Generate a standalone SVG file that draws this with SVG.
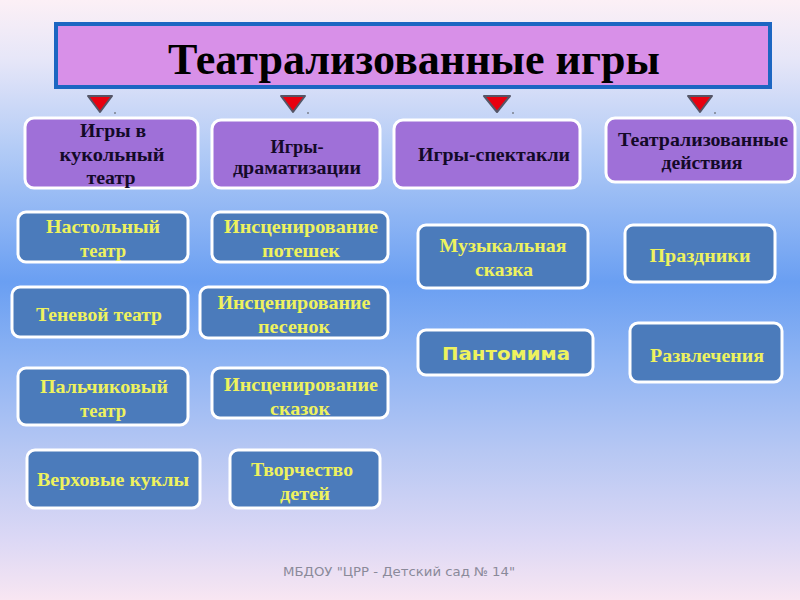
<svg xmlns="http://www.w3.org/2000/svg" width="800" height="600" viewBox="0 0 800 600">
<defs>
<linearGradient id="bg" x1="0" y1="0" x2="0" y2="1">
<stop offset="0" stop-color="#fcf0f6"/>
<stop offset="0.1" stop-color="#e6e6f8"/>
<stop offset="0.25" stop-color="#b2cbf6"/>
<stop offset="0.47" stop-color="#6a9ff2"/>
<stop offset="0.6" stop-color="#8db3f3"/>
<stop offset="0.75" stop-color="#b6c7f3"/>
<stop offset="0.9" stop-color="#dcd8f5"/>
<stop offset="1" stop-color="#f8e6f2"/>
</linearGradient>
</defs>
<style>
.title{fill:#d890e8;stroke:#1c66c2;stroke-width:4}
.cat{fill:#9f70d8;stroke:#ffffff;stroke-width:3}
.sub{fill:#4b7bbb;stroke:#ffffff;stroke-width:3}
.tt{font-family:"Liberation Serif",serif;font-weight:bold;font-size:45px;fill:#000;text-anchor:middle}
.ct{font-family:"Liberation Serif",serif;font-weight:bold;font-size:19px;fill:#140a28;text-anchor:middle}
.st{font-family:"Liberation Serif",serif;font-weight:bold;font-size:19px;fill:#eef25e;text-anchor:middle}
.ss{font-family:"DejaVu Sans",sans-serif;font-weight:bold;font-size:18px;fill:#eef25e;text-anchor:middle}
.ft{font-family:"DejaVu Sans",sans-serif;font-size:12px;fill:#8a8a9a;text-anchor:middle}
.tri{fill:#e8000f;stroke:#555566;stroke-width:2;stroke-linejoin:round}
</style>
<rect x="0" y="0" width="800" height="600" fill="url(#bg)"/>

<g id="title">
<rect class="title" x="56" y="24" width="714" height="63"/>
<text class="tt" x="414" y="74" textLength="492" lengthAdjust="spacingAndGlyphs">Театрализованные игры</text>
</g>

<g id="connectors">
<polygon class="tri" points="88,96 112,96 100,112"/>
<polygon class="tri" points="281,96 305,96 293,112"/>
<polygon class="tri" points="484,96 510,96 497,112"/>
<polygon class="tri" points="688,96 712,96 700,112"/>
<circle cx="115" cy="113" r="0.8" fill="#444"/>
<circle cx="308" cy="113" r="0.8" fill="#444"/>
<circle cx="513" cy="113" r="0.8" fill="#444"/>
<circle cx="715" cy="113" r="0.8" fill="#444"/>
</g>

<g id="cat1">
<rect class="cat" x="25" y="118" width="173" height="70" rx="9"/>
<text class="ct" x="113" y="137" textLength="66" lengthAdjust="spacingAndGlyphs">Игры в</text>
<text class="ct" x="112" y="161" textLength="105" lengthAdjust="spacingAndGlyphs">кукольный</text>
<text class="ct" x="111" y="184" textLength="49" lengthAdjust="spacingAndGlyphs">театр</text>
</g>
<g id="cat2">
<rect class="cat" x="212" y="120" width="168" height="68" rx="9"/>
<text class="ct" x="297" y="153" textLength="53" lengthAdjust="spacingAndGlyphs">Игры-</text>
<text class="ct" x="297" y="174" textLength="128" lengthAdjust="spacingAndGlyphs">драматизации</text>
</g>
<g id="cat3">
<rect class="cat" x="394" y="120" width="186" height="68" rx="9"/>
<text class="ct" x="494" y="161" textLength="152" lengthAdjust="spacingAndGlyphs">Игры-спектакли</text>
</g>
<g id="cat4">
<rect class="cat" x="606" y="118" width="189" height="64" rx="9"/>
<text class="ct" x="703" y="146" textLength="170" lengthAdjust="spacingAndGlyphs">Театрализованные</text>
<text class="ct" x="702" y="169" textLength="81" lengthAdjust="spacingAndGlyphs">действия</text>
</g>

<g id="n-nastolny">
<rect class="sub" x="18" y="212" width="170" height="50" rx="8"/>
<text class="st" x="103" y="233" textLength="114" lengthAdjust="spacingAndGlyphs">Настольный</text>
<text class="st" x="103" y="257" textLength="46" lengthAdjust="spacingAndGlyphs">театр</text>
</g>
<g id="n-tenevoy">
<rect class="sub" x="12" y="287" width="176" height="50" rx="8"/>
<text class="st" x="99" y="321" textLength="126" lengthAdjust="spacingAndGlyphs">Теневой театр</text>
</g>
<g id="n-palchik">
<rect class="sub" x="18" y="368" width="170" height="57" rx="8"/>
<text class="st" x="104" y="393" textLength="128" lengthAdjust="spacingAndGlyphs">Пальчиковый</text>
<text class="st" x="103" y="417" textLength="46" lengthAdjust="spacingAndGlyphs">театр</text>
</g>
<g id="n-verkh">
<rect class="sub" x="27" y="450" width="173" height="58" rx="8"/>
<text class="st" x="113" y="486" textLength="152" lengthAdjust="spacingAndGlyphs">Верховые куклы</text>
</g>

<g id="n-poteshek">
<rect class="sub" x="212" y="212" width="176" height="50" rx="8"/>
<text class="st" x="301" y="233" textLength="154" lengthAdjust="spacingAndGlyphs">Инсценирование</text>
<text class="st" x="301" y="257" textLength="78" lengthAdjust="spacingAndGlyphs">потешек</text>
</g>
<g id="n-pesenok">
<rect class="sub" x="200" y="287" width="188" height="51" rx="8"/>
<text class="st" x="294" y="309" textLength="153" lengthAdjust="spacingAndGlyphs">Инсценирование</text>
<text class="st" x="294" y="333" textLength="72" lengthAdjust="spacingAndGlyphs">песенок</text>
</g>
<g id="n-skazok">
<rect class="sub" x="212" y="368" width="176" height="50" rx="8"/>
<text class="st" x="301" y="391" textLength="154" lengthAdjust="spacingAndGlyphs">Инсценирование</text>
<text class="st" x="300" y="415" textLength="60" lengthAdjust="spacingAndGlyphs">сказок</text>
</g>
<g id="n-tvorch">
<rect class="sub" x="230" y="450" width="150" height="58" rx="8"/>
<text class="st" x="302" y="476" textLength="102" lengthAdjust="spacingAndGlyphs">Творчество</text>
<text class="st" x="305" y="500" textLength="50" lengthAdjust="spacingAndGlyphs">детей</text>
</g>

<g id="n-muz">
<rect class="sub" x="418" y="225" width="170" height="63" rx="8"/>
<text class="st" x="503" y="252" textLength="127" lengthAdjust="spacingAndGlyphs">Музыкальная</text>
<text class="st" x="504" y="276" textLength="58" lengthAdjust="spacingAndGlyphs">сказка</text>
</g>
<g id="n-panto">
<rect class="sub" x="418" y="330" width="175" height="45" rx="8"/>
<text class="ss" x="506" y="360" textLength="128" lengthAdjust="spacingAndGlyphs">Пантомима</text>
</g>

<g id="n-prazd">
<rect class="sub" x="625" y="225" width="150" height="57" rx="8"/>
<text class="st" x="700" y="262" textLength="101" lengthAdjust="spacingAndGlyphs">Праздники</text>
</g>
<g id="n-razvl">
<rect class="sub" x="630" y="323" width="152" height="59" rx="8"/>
<text class="st" x="707" y="362" textLength="114" lengthAdjust="spacingAndGlyphs">Развлечения</text>
</g>

<g id="footer">
<text class="ft" x="399" y="576" textLength="232" lengthAdjust="spacingAndGlyphs">МБДОУ "ЦРР - Детский сад № 14"</text>
</g>
</svg>
